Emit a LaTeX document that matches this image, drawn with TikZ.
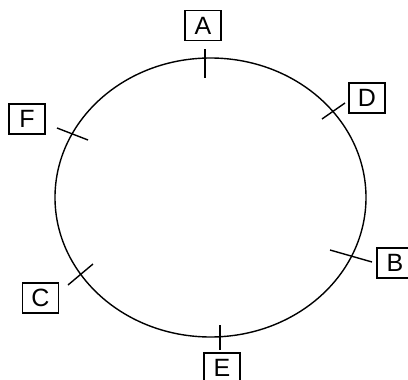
\documentclass[tikz,border=0pt]{standalone}
\usepackage{fontspec}
\setmainfont{Liberation Sans}
\usetikzlibrary{shapes.geometric}
\begin{document}
\begin{tikzpicture}[x=1pt,y=-1pt,
  lbl/.style={draw,line width=1.2pt,minimum width=36pt,minimum height=30pt,inner sep=0pt,font=\fontsize{25}{25}\selectfont},
  tick/.style={line width=1.4pt},
  curve/.style={line width=1.4pt}]
\useasboundingbox (0,0) rectangle (408,380);
\node[curve,draw,ellipse,minimum width=311pt,minimum height=279pt,inner sep=0pt] (o) at (210.5,197.5) {};
\node[lbl] (A) at (203,25.5) {A};
\node[lbl] (D) at (367,98) {D};
\node[lbl] (F) at (27,119) {F};
\node[lbl] (B) at (395,263) {B};
\node[lbl] (C) at (40.5,298) {C};
\node[lbl] (E) at (222,368) {E};
\coordinate (a1) at (205,49); \coordinate (a2) at (205,78);
\coordinate (d1) at (322,119); \coordinate (d2) at (345,103);
\coordinate (f1) at (57,128); \coordinate (f2) at (88,140);
\coordinate (b1) at (330,250); \coordinate (b2) at (372,262);
\coordinate (c1) at (68,285); \coordinate (c2) at (93,264);
\coordinate (e1) at (220,325); \coordinate (e2) at (220,350);
\draw[tick] (a1) -- (a2);
\draw[tick] (d1) -- (d2);
\draw[tick] (f1) -- (f2);
\draw[tick] (b1) -- (b2);
\draw[tick] (c1) -- (c2);
\draw[tick] (e1) -- (e2);
\end{tikzpicture}
\end{document}
